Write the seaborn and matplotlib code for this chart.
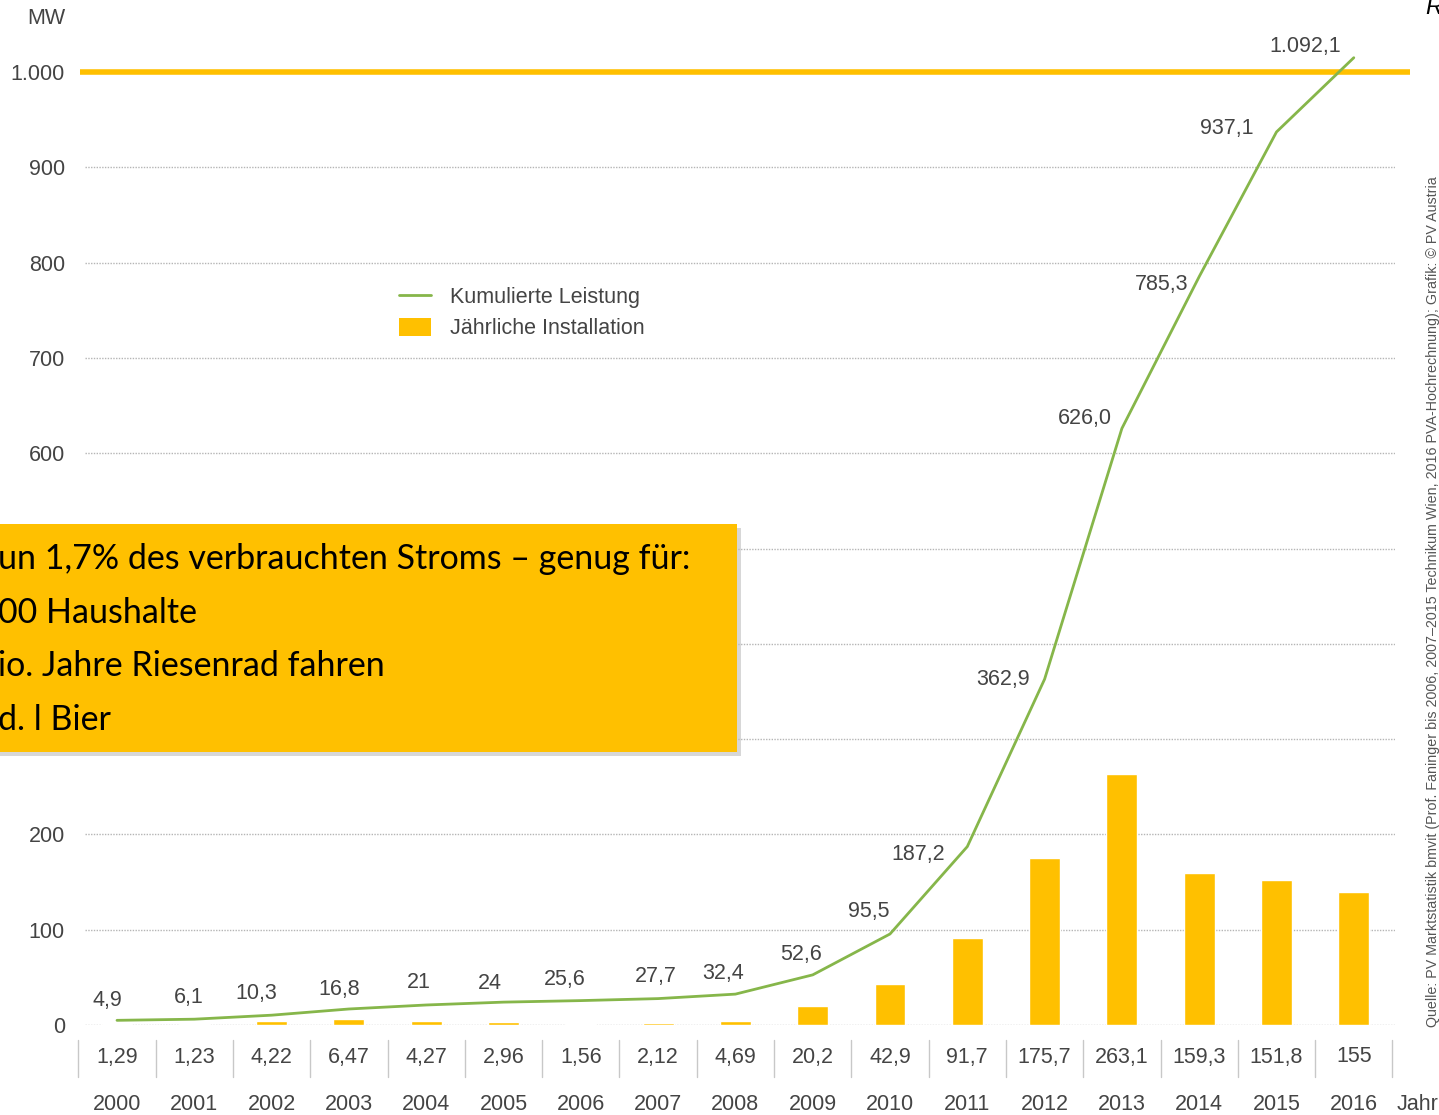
import matplotlib
matplotlib.use("Agg")
import matplotlib.pyplot as plt
import seaborn as sns
import pandas as pd
import numpy as np
from matplotlib.patches import Rectangle, Patch
from matplotlib.lines import Line2D

# ---------------- data ----------------
years = ["2000", "2001", "2002", "2003", "2004", "2005", "2006", "2007", "2008",
         "2009", "2010", "2011", "2012", "2013", "2014", "2015", "2016"]
# cumulative power (as drawn); last point drawn lower than its label in the original
cumulative = [4.9, 6.1, 10.3, 16.8, 21, 24, 25.6, 27.7, 32.4,
              52.6, 95.5, 187.2, 362.9, 626.0, 785.3, 937.1, 1015]
cumulative_labels = ["4,9", "6,1", "10,3", "16,8", "21", "24", "25,6", "27,7", "32,4",
                     "52,6", "95,5", "187,2", "362,9", "626,0", "785,3", "937,1", "1.092,1"]
# annual installation (bar heights as drawn)
annual = [1.29, 1.23, 4.22, 6.47, 4.27, 2.96, 1.56, 2.12, 4.69,
          20.2, 42.9, 91.7, 175.7, 263.1, 159.3, 151.8, 140]
annual_labels = ["1,29", "1,23", "4,22", "6,47", "4,27", "2,96", "1,56", "2,12", "4,69",
                 "20,2", "42,9", "91,7", "175,7", "263,1", "159,3", "151,8", "155"]
yticks = [0, 100, 200, 300, 400, 500, 600, 700, 800, 900, 1000]
# 300-500 are hidden behind the overlay box in the original
ytick_labels = ["0", "100", "200", "", "", "", "600", "700", "800", "900", "1.000"]
box_lines = ["un 1,7% des verbrauchten Stroms – genug für:",
             "00 Haushalte",
             "io. Jahre Riesenrad fahren",
             "d. l Bier"]
source_text = ("Quelle: PV Marktstatistik bmvit (Prof. Faninger bis 2006, 2007–2015 Technikum Wien, "
               "2016 PVA-Hochrechnung); Grafik: © PV Austria")

# label offsets in pixels (dx, dy up)
label_offsets = [(-10, 20), (-6, 22), (-15, 22), (-10, 19), (-7, 22), (-14, 19), (-16, 21),
                 (-2, 22), (-12, 21), (-12, 20), (-21, 22), (-49, -8), (-42, 0), (-37, 10),
                 (-38, -8), (-50, 3), (-49, 11)]

df = pd.DataFrame({"year": years, "annual": annual, "cumulative": cumulative})

# ---------------- style ----------------
sns.set_theme(style="white")
FONT = ["Liberation Sans Narrow", "Liberation Sans", "DejaVu Sans"]
plt.rcParams["font.family"] = FONT
TXT = "#444444"
GOLD = "#FFC000"
GREEN = "#86B64A"
FS = 15.5

W, H = 1439, 1115
fig = plt.figure(figsize=(W / 100, H / 100), dpi=100)
fig.patch.set_facecolor("white")

px0, px1 = 85, 1395
py_zero = 1025
ax = fig.add_axes([px0 / W, 1 - py_zero / H, (px1 - px0) / W, py_zero / H])
step = 77.3
c0 = 117

# gridlines
for v in yticks[:-1]:
    ax.axhline(v, color="#b5b5b5", lw=1.0, ls=(0, (1, 1)), zorder=0)
ax.axhline(1000, xmin=-5 / 1310, xmax=1 + 15 / 1310, color=GOLD, lw=4, zorder=1,
           clip_on=False, solid_capstyle="butt")

sns.barplot(data=df, x="year", y="annual", color=GOLD, width=0.40, saturation=1,
            ax=ax, zorder=2)
x = np.arange(len(years))
ax.plot(x, df["cumulative"], color=GREEN, lw=2.0, zorder=3)

ax.set_xlim((px0 - c0) / step, (px1 - c0) / step)
ax.set_ylim(0, py_zero / 0.953)

for spine in ax.spines.values():
    spine.set_visible(False)
ax.set_xlabel("")
ax.set_ylabel("")
ax.set_xticks([])
ax.set_yticks(yticks)
ax.set_yticklabels(ytick_labels)
ax.tick_params(axis="y", length=0, pad=14.5, labelsize=FS, labelcolor=TXT)

# line value labels
for i, (lab, (dx, dy)) in enumerate(zip(cumulative_labels, label_offsets)):
    ax.annotate(lab, (x[i], cumulative[i]), xytext=(dx * 0.72, dy * 0.72),
                textcoords="offset points", ha="center", va="center",
                fontsize=FS, color=TXT, zorder=4, annotation_clip=False)

# table row below
trans_row = ax.get_xaxis_transform()
def fy(py):
    return (py_zero - py) / py_zero

for i in range(len(years)):
    ax.text(x[i], fy(1057), annual_labels[i], transform=trans_row, ha="center", va="center",
            fontsize=FS, color=TXT, clip_on=False)
    ax.text(x[i], fy(1104), years[i], transform=trans_row, ha="center", va="center",
            fontsize=FS, color=TXT, clip_on=False)
for b in np.arange(-0.5, len(years), 1.0):
    ax.plot([b, b], [fy(1040), fy(1077)], transform=trans_row, color="#c8c8c8", lw=1.0,
            clip_on=False)

fig.text(1397 / W, 1 - 1104 / H, "Jahr", ha="left", va="center", fontsize=FS, color=TXT)
fig.text(65 / W, 1 - 18 / H, "MW", ha="right", va="center", fontsize=FS, color=TXT)
fig.text(1425 / W, 1 - 8 / H, "R", ha="left", va="center", fontsize=17, color="black",
         style="italic", family=["Liberation Sans", "DejaVu Sans"])
fig.text(1433 / W, 1 - 1027 / H, source_text, rotation=90, ha="center", va="bottom",
         fontsize=10.3, color="#555555")

# legend
handles = [Line2D([0], [0], color=GREEN, lw=2.0),
           Patch(facecolor=GOLD, edgecolor="none")]
leg = fig.legend(handles, ["Kumulierte Leistung", "Jährliche Installation"],
                 loc="upper left", bbox_to_anchor=(399 / W, 1 - 287 / H), frameon=False,
                 fontsize=FS, handlelength=1.5, handleheight=0.9, handletextpad=0.85,
                 labelspacing=0.45, borderpad=0, borderaxespad=0)
for t in leg.get_texts():
    t.set_color(TXT)

# overlay box with shadow
shadow = Rectangle((0, 1 - 756 / H), 741 / W, (756 - 528) / H, transform=fig.transFigure,
                   facecolor="#bdbdbd", edgecolor="none", alpha=0.6, zorder=9)
box = Rectangle((0, 1 - 752 / H), 737 / W, (752 - 524) / H, transform=fig.transFigure,
                facecolor=GOLD, edgecolor="none", zorder=10)
fig.patches.extend([shadow, box])
box_font = ["Lato", "Open Sans", "DejaVu Sans"]
for k, line in enumerate(box_lines):
    fig.text(-2 / W, 1 - (559 + 53.7 * k) / H, line, ha="left", va="center",
             fontsize=24.5, color="black", family=box_font, zorder=11)

fig.savefig("out.png", dpi=100)
